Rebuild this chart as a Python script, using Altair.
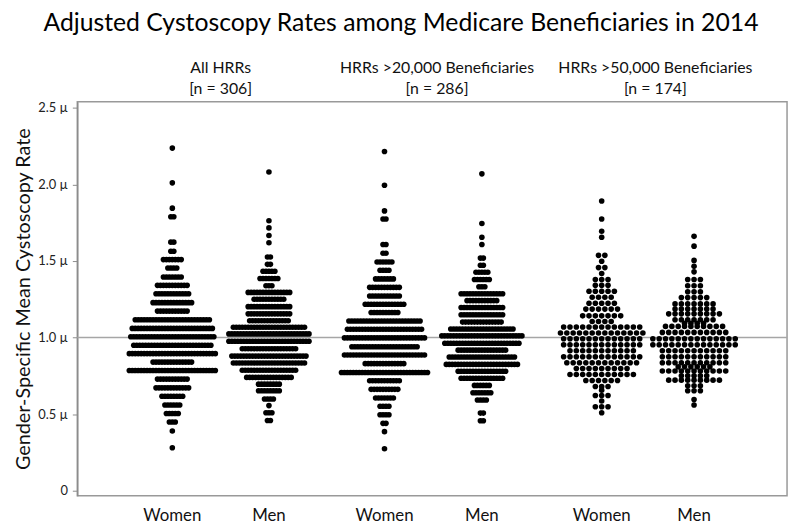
import altair as alt
import pandas as pd

# ---------------- data ----------------
# Each column of dots: value levels (rows of the swarm) and number of HRRs in each row
W1_LEVELS = [2.237, 2.010, 1.845, 1.789, 1.623, 1.564, 1.509, 1.454, 1.396, 1.341, 1.286, 1.228,
             1.173, 1.116, 1.060, 1.005, 0.950, 0.895, 0.840, 0.785, 0.729, 0.672, 0.617, 0.560,
             0.504, 0.449, 0.390, 0.281]
W1_COUNTS = [1, 1, 1, 2, 2, 2, 7, 4, 7, 11, 12, 14, 11, 26, 28, 29, 27, 30, 14, 30, 11, 12, 8, 6,
             5, 3, 1, 1]

M1_LEVELS = [2.081, 1.763, 1.716, 1.666, 1.619, 1.526, 1.478, 1.433, 1.386, 1.338, 1.295, 1.250,
             1.202, 1.155, 1.110, 1.067, 1.024, 0.976, 0.927, 0.879, 0.834, 0.787, 0.740, 0.696,
             0.653, 0.599, 0.556, 0.509, 0.459]
M1_COUNTS = [1, 1, 1, 1, 1, 2, 2, 5, 7, 3, 15, 11, 15, 15, 14, 25, 28, 28, 19, 26, 25, 19, 16, 8,
             8, 4, 1, 3, 2]

W2_LEVELS = [2.215, 1.994, 1.827, 1.774, 1.608, 1.551, 1.493, 1.440, 1.383, 1.328, 1.271, 1.218,
             1.164, 1.108, 1.054, 0.998, 0.940, 0.886, 0.830, 0.772, 0.718, 0.662, 0.606, 0.552,
             0.496, 0.440, 0.386, 0.274]
W2_COUNTS = [1, 1, 1, 2, 2, 2, 6, 4, 7, 11, 11, 14, 10, 25, 26, 28, 23, 28, 14, 30, 11, 10, 7, 4,
             4, 2, 1, 1]

M2_LEVELS = [2.069, 1.745, 1.655, 1.608, 1.519, 1.472, 1.427, 1.379, 1.332, 1.286, 1.241, 1.196,
             1.149, 1.101, 1.056, 1.011, 0.963, 0.918, 0.873, 0.825, 0.780, 0.735, 0.688, 0.640,
             0.593, 0.507, 0.457]
M2_COUNTS = [1, 1, 1, 1, 2, 2, 5, 6, 3, 15, 11, 15, 15, 14, 22, 28, 26, 17, 23, 25, 17, 15, 6, 7,
             4, 2, 2]

W3_LEVELS = [1.892, 1.774, 1.694, 1.655, 1.537, 1.498, 1.457, 1.418, 1.379, 1.341, 1.302, 1.263,
             1.224, 1.186, 1.142, 1.105, 1.069, 1.030, 0.992, 0.953, 0.914, 0.875, 0.836, 0.798,
             0.759, 0.720, 0.681, 0.657, 0.622, 0.586, 0.548, 0.509]
W3_COUNTS = [1, 1, 1, 1, 2, 1, 2, 1, 3, 3, 5, 4, 5, 6, 7, 4, 13, 14, 13, 13, 11, 13, 12, 9,
             11, 6, 3, 1, 3, 1, 3, 1]

M3_LEVELS = [1.661, 1.597, 1.504, 1.465, 1.429, 1.379, 1.338, 1.299, 1.261, 1.220, 1.186, 1.155,
             1.116, 1.094, 1.073, 1.034, 0.992, 0.953, 0.914, 0.875, 0.836, 0.809, 0.782, 0.751,
             0.722, 0.685, 0.653, 0.595, 0.560]
M3_COUNTS = [1, 1, 1, 1, 1, 3, 3, 3, 5, 7, 7, 9, 7, 4, 10, 11, 14, 14, 11, 11, 11, 6, 11, 5,
             9, 3, 3, 1, 1]

SEXES = ["Women", "Men", "Women", "Men", "Women", "Men"]
HEADER_LINE1 = ["All HRRs", "HRRs >20,000 Beneficiaries", "HRRs >50,000 Beneficiaries"]
HEADER_N = [306, 286, 174]
Y_TICKS = [0, 0.5, 1.0, 1.5, 2.0, 2.5]
REFERENCE_RATE = 1.0
TITLE = "Adjusted Cystoscopy Rates among Medicare Beneficiaries in 2014"

# ---------------- layout ----------------
LEVELS = [W1_LEVELS, M1_LEVELS, W2_LEVELS, M2_LEVELS, W3_LEVELS, M3_LEVELS]
COUNTS = [W1_COUNTS, M1_COUNTS, W2_COUNTS, M2_COUNTS, W3_COUNTS, M3_COUNTS]
CENTERS = [1.0, 2.0, 3.196, 4.204, 5.444, 6.4]          # column slots on the hidden x scale
STEPS = [0.0307, 0.0307, 0.0307, 0.0307, 0.0656, 0.0656]  # horizontal spacing of dots in a row
HEADER_POS = [1.5, 3.74, 6.0]

recs = []
for gi, (levels, counts) in enumerate(zip(LEVELS, COUNTS)):
    for v, n in zip(levels, counts):
        for i in range(n):
            recs.append({"sex": SEXES[gi], "rate": v, "slot": i - (n - 1) / 2,
                         "center": CENTERS[gi], "step": STEPS[gi]})
dots_df = pd.DataFrame(recs)

head_df = pd.DataFrame({"hx": HEADER_POS, "line1": HEADER_LINE1,
                        "line2": [f"[n = {n}]" for n in HEADER_N]})
sex_df = pd.DataFrame({"sx": CENTERS, "label": SEXES})

FONT = "Lato"
x_scale = alt.Scale(domain=[0.0164, 7.3626], nice=False, zero=False)
y_scale = alt.Scale(domain=[-0.032, 2.54], nice=False, zero=False)
y_axis = alt.Axis(
    values=Y_TICKS,
    labelExpr="datum.value == 0 ? '0' : format(datum.value, '.1f') + ' µ'",
    grid=False, tickSize=5, tickColor="#8c8c8c", domainColor="#8c8c8c", domainWidth=1.5,
    labelFont=FONT, labelFontSize=13, labelColor="#222222", labelPadding=5,
    title="Gender-Specific Mean Cystoscopy Rate", titleFont=FONT, titleFontSize=20,
    titleFontWeight="normal", titleColor="#111111", titleAngle=270, titleAlign="center",
    titleBaseline="alphabetic", titleX=-48, titleY=199,
)

ref = alt.Chart(pd.DataFrame({"ref": [REFERENCE_RATE]})).mark_rule(
    color="#a6a6a6", strokeWidth=1.5
).encode(y=alt.Y("ref:Q", scale=y_scale, axis=y_axis))

dots = alt.Chart(dots_df).transform_calculate(
    xpos="datum.center + datum.slot * datum.step"
).mark_circle(size=32, color="black", opacity=1).encode(
    x=alt.X("xpos:Q", scale=x_scale, axis=None),
    y=alt.Y("rate:Q", scale=y_scale, axis=y_axis),
)

head1 = alt.Chart(head_df).mark_text(
    font=FONT, fontSize=16, color="#111111", baseline="alphabetic", align="center"
).encode(x=alt.X("hx:Q", scale=x_scale, axis=None), y=alt.value(-29), text="line1:N")

head2 = alt.Chart(head_df).mark_text(
    font=FONT, fontSize=16, color="#111111", baseline="alphabetic", align="center"
).encode(x=alt.X("hx:Q", scale=x_scale, axis=None), y=alt.value(-8), text="line2:N")

sex_labels = alt.Chart(sex_df).mark_text(
    font=FONT, fontSize=17, color="#111111", baseline="alphabetic", align="center"
).encode(x=alt.X("sx:Q", scale=x_scale, axis=None), y=alt.value(424), text="label:N")

title = alt.Chart(pd.DataFrame({"t": [TITLE]})).mark_text(
    font=FONT, fontSize=25, color="#000000", baseline="alphabetic", align="center"
).encode(x=alt.value(327), y=alt.value(-71), text="t:N")

chart = alt.layer(ref, dots, head1, head2, sex_labels, title).properties(
    width=717, height=398,
    autosize=alt.AutoSizeParams(type="none"),
    padding={"left": 70, "top": 92, "right": 5, "bottom": 28},
).configure_view(stroke="#999999", strokeWidth=1.5)

chart.save("out.html", embed_options={"renderer": "svg", "actions": False})
